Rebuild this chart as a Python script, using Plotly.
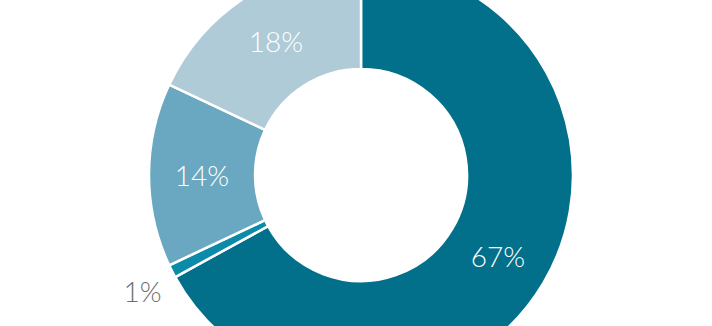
import plotly.graph_objects as go

labels = ["A", "B", "C", "D"]
values = [67, 1, 14, 18]
text_labels = ["67%", "1%", "14%", "18%"]
colors = ["#02708a", "#0b8ba7", "#69a8c0", "#aecbd7"]
inside_text = ["67%", "", "14%", "18%"]
outside_text = ["", "1%", "", ""]

FIG_H = 442
RING_BOX = 424
pad = (FIG_H - RING_BOX) / 2 / FIG_H

fig = go.Figure()

# main ring with inside labels
fig.add_trace(go.Pie(
    labels=labels,
    values=values,
    text=inside_text,
    textinfo="text",
    textposition="inside",
    insidetextorientation="horizontal",
    hole=0.5,
    sort=False,
    direction="clockwise",
    rotation=0,
    automargin=False,
    domain=dict(x=[0, 1], y=[pad, 1 - pad]),
    marker=dict(colors=colors, line=dict(color="#ffffff", width=2.5)),
    textfont=dict(family="Lato", size=28, color="#ffffff", weight=300),
    hoverinfo="label+percent",
    showlegend=False,
))

# transparent ring carrying the outside label of the small slice
fig.add_trace(go.Pie(
    labels=labels,
    values=values,
    text=outside_text,
    textinfo="text",
    textposition=["none", "outside", "none", "none"],
    hole=0.5,
    sort=False,
    direction="clockwise",
    rotation=-3.3,
    automargin=False,
    domain=dict(x=[0, 1], y=[0, 1]),
    marker=dict(colors=["rgba(0,0,0,0)"] * 4, line=dict(width=0)),
    textfont=dict(family="Lato", size=28, color="#6e6e6e", weight=300),
    hoverinfo="skip",
    showlegend=False,
))

fig.update_layout(
    width=712, height=FIG_H,
    margin=dict(l=0, r=0, t=0, b=0),
    paper_bgcolor="#ffffff",
    plot_bgcolor="#ffffff",
)

post = """
document.documentElement.style.overflow='hidden';
document.body.style.overflow='hidden';
document.body.style.margin='0';
var gd=document.getElementById('{plot_id}');
gd.style.position='absolute';
gd.style.left='5px';
gd.style.top='-46px';
"""

fig.write_html("out.html", post_script=post, config={"displayModeBar": False})
